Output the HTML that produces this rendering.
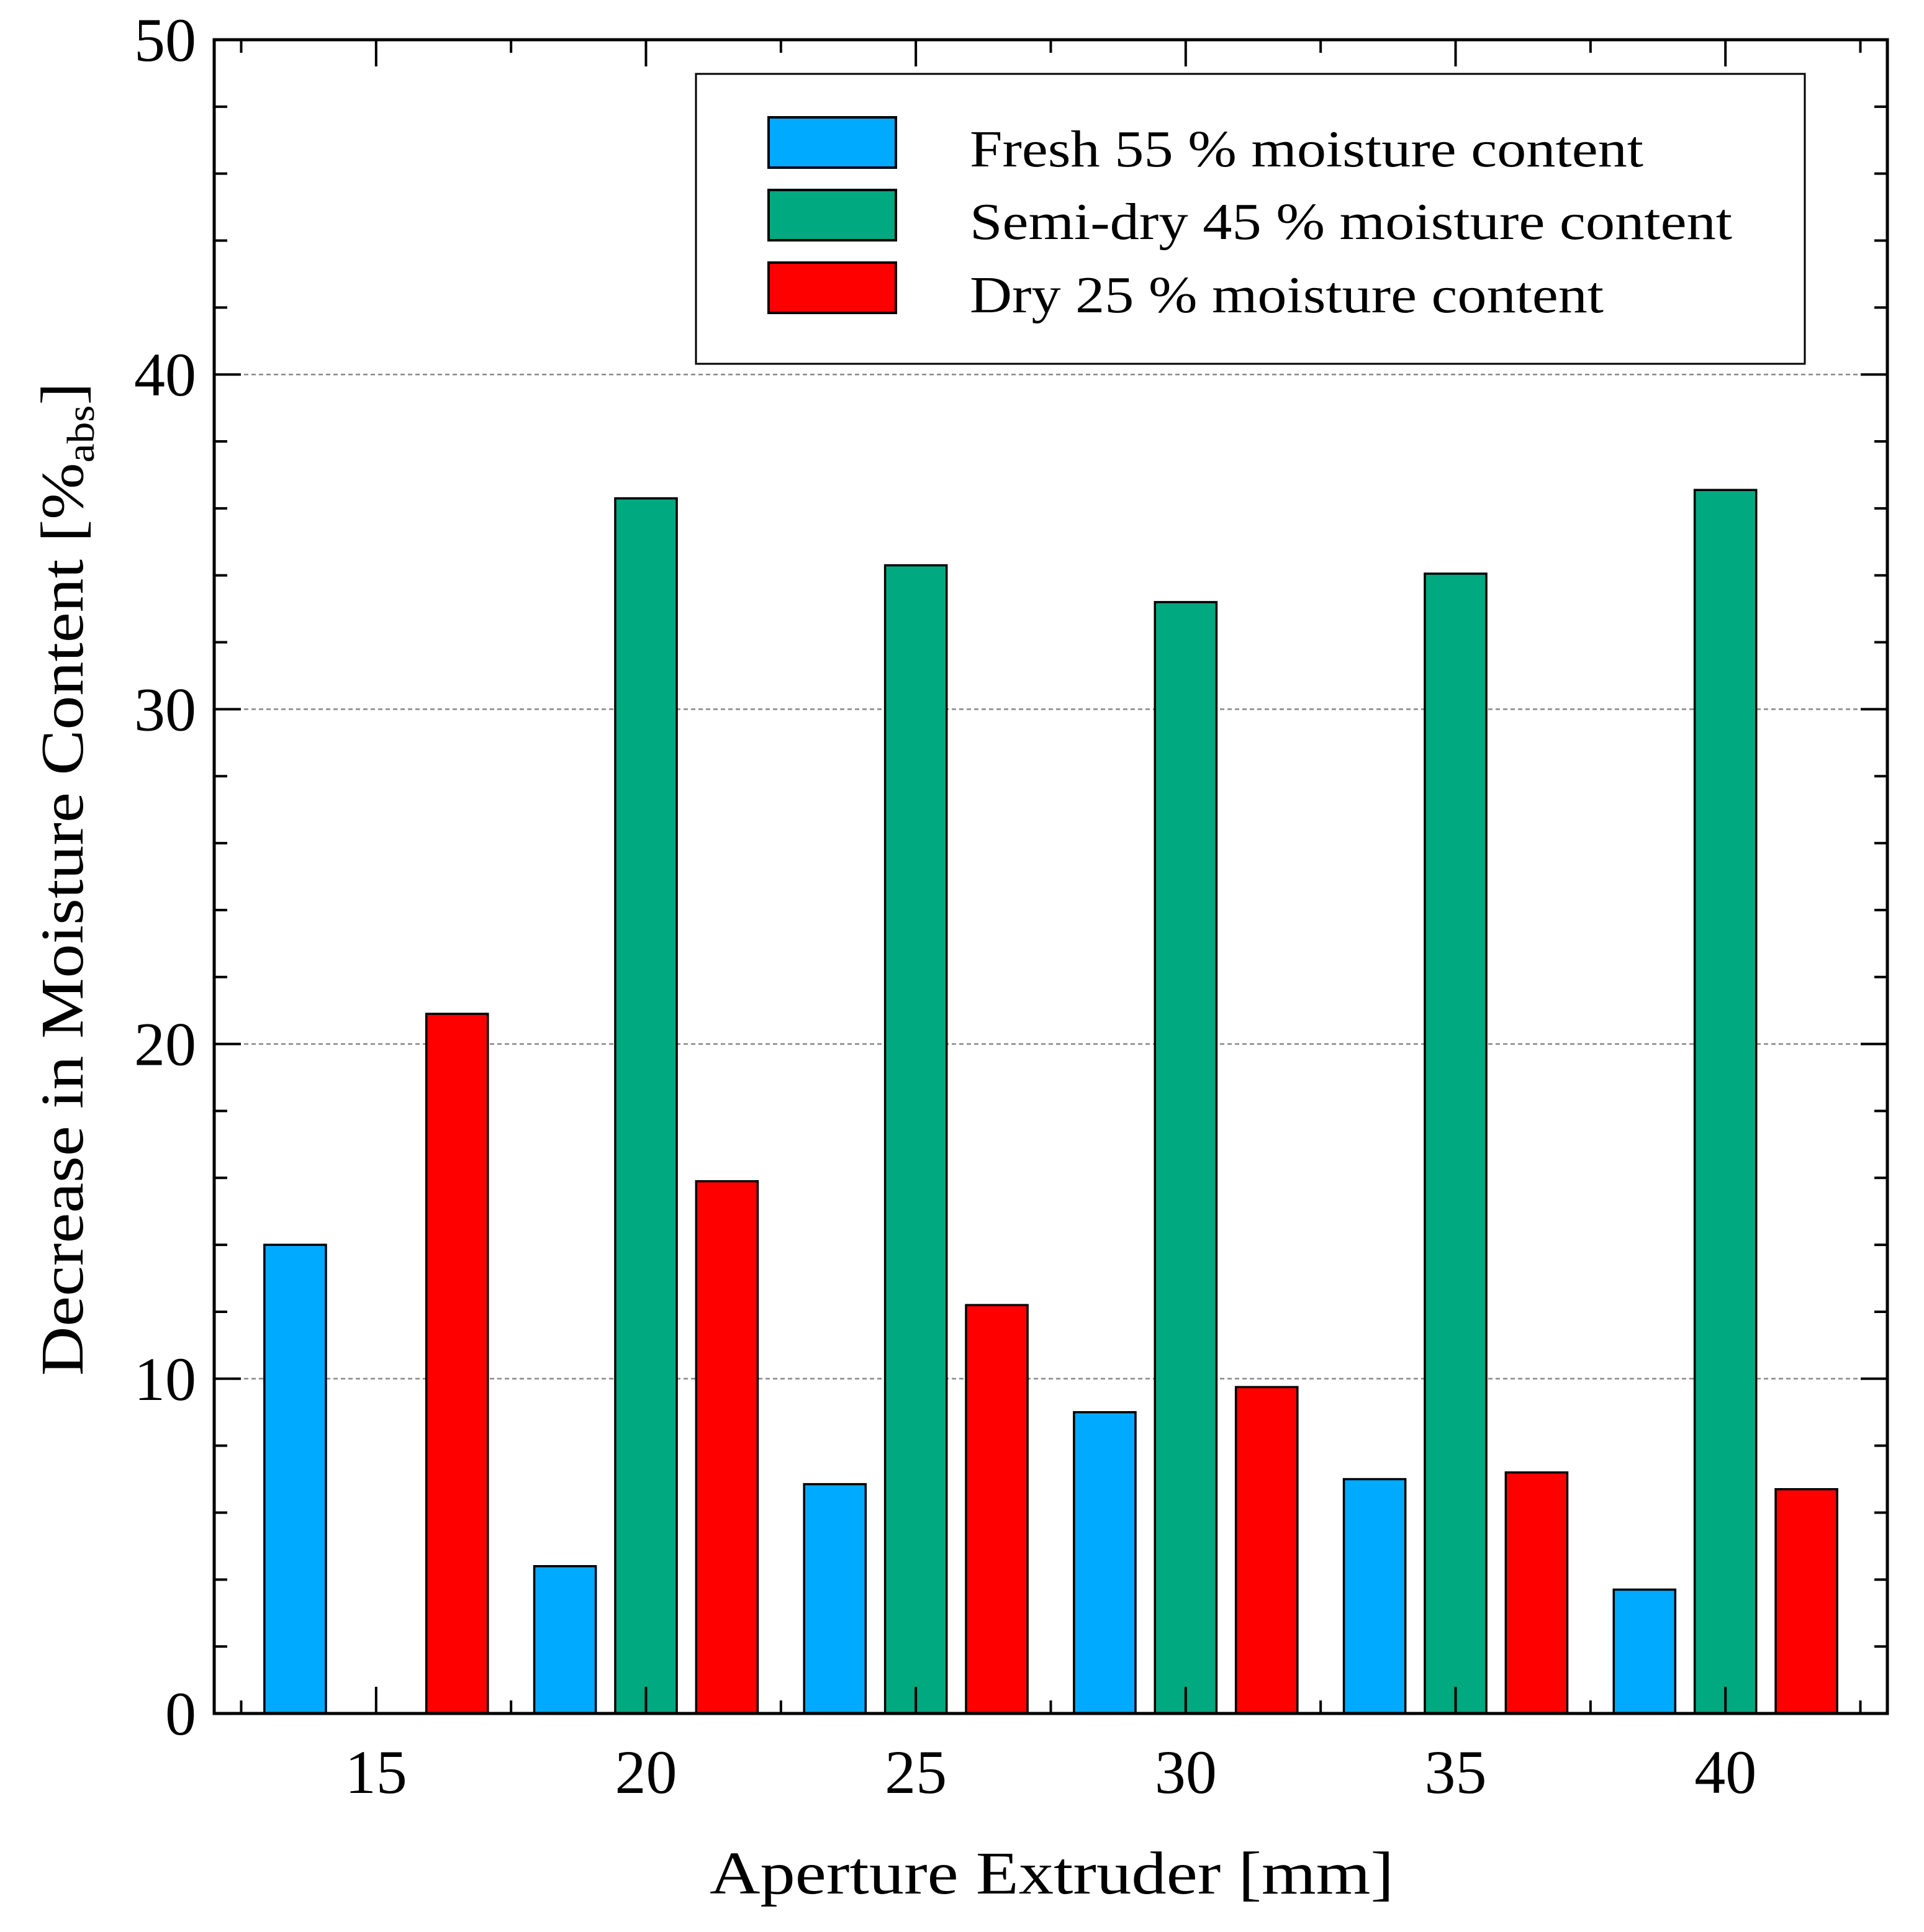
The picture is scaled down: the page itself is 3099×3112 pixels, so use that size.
<!DOCTYPE html>
<html><head><meta charset="utf-8"><style>
html,body{margin:0;padding:0;background:#fff;}
svg{display:block;font-family:"Liberation Serif",serif;}
</style></head><body>
<svg id="chart" width="3099" height="3112" viewBox="0 0 3099 3112" xmlns="http://www.w3.org/2000/svg">
<g id="grid"></g>
<g id="bars"></g>
<g id="axes"></g>
<g id="legend">
  <rect x="1121" y="119" width="1786" height="467" fill="#fff" stroke="#000" stroke-width="3"/>
  <rect x="1238" y="189" width="205" height="81" fill="#00AAFF" stroke="#000" stroke-width="4"/>
  <rect x="1238" y="306" width="205" height="81" fill="#00A97F" stroke="#000" stroke-width="4"/>
  <rect x="1238" y="423" width="205" height="81" fill="#FF0000" stroke="#000" stroke-width="4"/>
  <text x="1562" y="268" font-size="84" textLength="1085" lengthAdjust="spacingAndGlyphs">Fresh 55 % moisture content</text>
  <text x="1562" y="385" font-size="84" textLength="1228" lengthAdjust="spacingAndGlyphs">Semi-dry 45 % moisture content</text>
  <text x="1562" y="503" font-size="84" textLength="1021" lengthAdjust="spacingAndGlyphs">Dry 25 % moisture content</text>
</g>
<text x="1694" y="3050" font-size="98" text-anchor="middle" textLength="1102" lengthAdjust="spacingAndGlyphs">Aperture Extruder [mm]</text>
<text transform="translate(133,1416) rotate(-90)" font-size="98" text-anchor="middle" textLength="1600" lengthAdjust="spacingAndGlyphs">Decrease in Moisture Content [%<tspan font-size="62" dy="18">abs</tspan><tspan dy="-18">]</tspan></text>
</svg>
<script>
const categories = [15, 20, 25, 30, 35, 40];
const freshValues = [14.0, 4.4, 6.85, 9.0, 7.0, 3.7];
const semiDryValues = [0, 36.3, 34.3, 33.2, 34.05, 36.55];
const dryValues = [20.9, 15.9, 12.2, 9.75, 7.2, 6.7];
const yTickLabels = [0, 10, 20, 30, 40, 50];
const xTickLabels = [15, 20, 25, 30, 35, 40];

const NS = "http://www.w3.org/2000/svg";
const L = 345, R = 3040, T = 64, B = 2760;
const xMin = 12, xMax = 43, yMin = 0, yMax = 50;
function xs(v){ return L + (v - xMin) / (xMax - xMin) * (R - L); }
function ys(v){ return B - (v - yMin) / (yMax - yMin) * (B - T); }
function mk(tag, attrs, parent){ const e = document.createElementNS(NS, tag); for (const k in attrs) e.setAttribute(k, attrs[k]); parent.appendChild(e); return e; }

const grid = document.getElementById('grid');
const bars = document.getElementById('bars');
const axes = document.getElementById('axes');

[10,20,30,40].forEach(v => {
  const g = mk('line', {x1:L, x2:R, y1:ys(v), y2:ys(v), stroke:'#888', 'stroke-width':2.5, 'stroke-dasharray':'7 5'}, grid);
  
  
});

const series = [
  {name:'fresh', vals:freshValues, color:'#00AAFF', off:-1.5},
  {name:'semi-dry', vals:semiDryValues, color:'#00A97F', off:0},
  {name:'dry', vals:dryValues, color:'#FF0000', off:1.5}
];
const bw = 1.14;
series.forEach(s => {
  categories.forEach((c, i) => {
    const v = s.vals[i];
    if (v <= 0) return;
    const x0 = xs(c + s.off - bw/2), x1 = xs(c + s.off + bw/2);
    const r = mk('rect', {x:x0, y:ys(v), width:x1-x0, height:ys(0)-ys(v), fill:s.color, stroke:'#000', 'stroke-width':3.5}, bars);
    
    
  });
});

const fr = mk('rect', {x:L, y:T, width:R-L, height:B-T, fill:'none', stroke:'#000', 'stroke-width':5}, axes);



for (let v = 0; v <= 50; v += 2) {
  const len = (v % 10 === 0) ? 43 : 21;
  mk('line', {x1:L, x2:L+len, y1:ys(v), y2:ys(v), stroke:'#000', 'stroke-width':4}, axes);
  mk('line', {x1:R, x2:R-len, y1:ys(v), y2:ys(v), stroke:'#000', 'stroke-width':4}, axes);
}
yTickLabels.forEach(v => {
  const t = mk('text', {x:316, y:ys(v)+34, 'font-size':100, 'text-anchor':'end'}, axes);
  t.textContent = v;
  
  
});
for (let v = 12.5; v <= 42.6; v += 2.5) {
  const len = (Math.abs(v % 5) < 0.01) ? 43 : 21;
  mk('line', {x1:xs(v), x2:xs(v), y1:B, y2:B-len, stroke:'#000', 'stroke-width':4}, axes);
  mk('line', {x1:xs(v), x2:xs(v), y1:T, y2:T+len, stroke:'#000', 'stroke-width':4}, axes);
}
xTickLabels.forEach(v => {
  const t = mk('text', {x:xs(v), y:2888, 'font-size':100, 'text-anchor':'middle'}, axes);
  t.textContent = v;
  
  
});
</script>
</body></html>
